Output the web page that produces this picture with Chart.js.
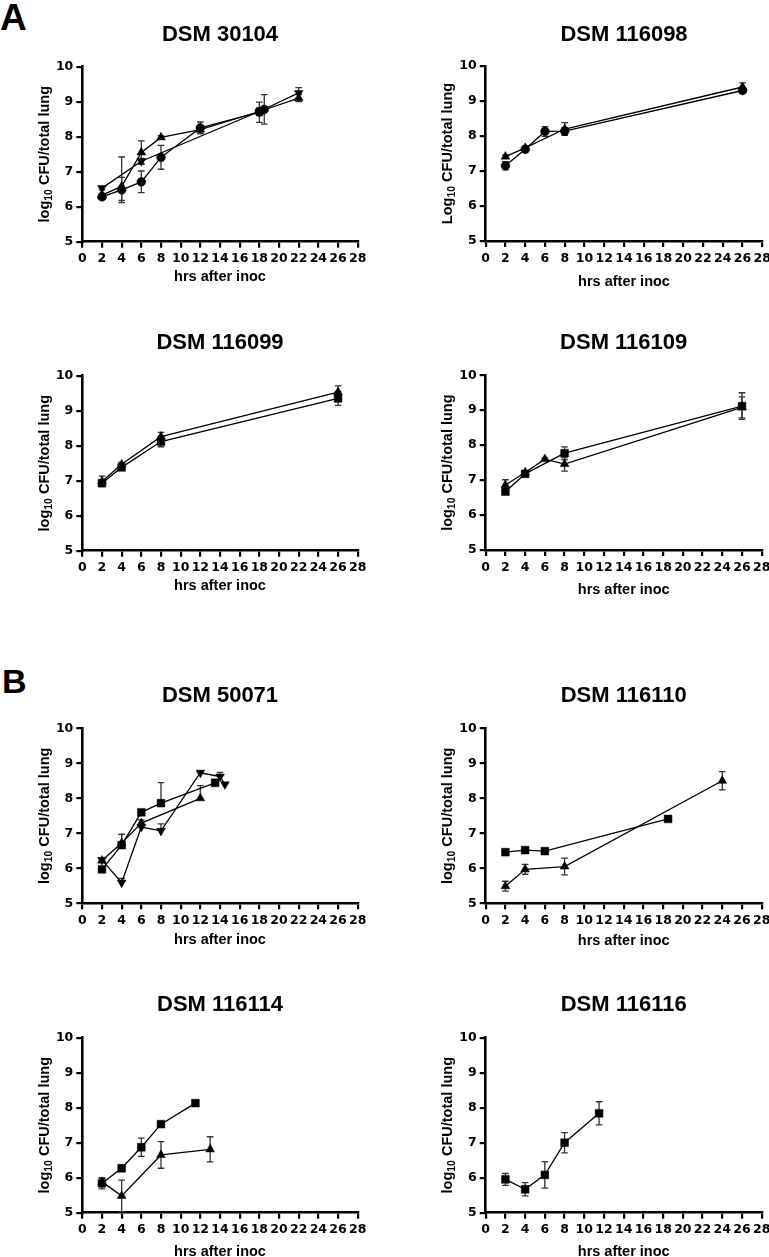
<!DOCTYPE html>
<html><head><meta charset="utf-8">
<script src="https://cdn.jsdelivr.net/npm/chart.js@4.4.1/dist/chart.umd.min.js"></script>
<style>
html,body{margin:0;padding:0;background:#fff;overflow:hidden;width:769px;height:1257px;position:relative;}
canvas{position:absolute;display:block;}
.lbl{position:absolute;font-family:"Liberation Sans",Arial,sans-serif;font-weight:bold;line-height:1;color:#000;}
</style></head><body>
<div class="lbl" style="left:0px;top:-1px;font-size:37px">A</div>
<div class="lbl" style="left:2px;top:664px;font-size:34px">B</div>
<script>
// ---------- tick labels / titles ----------
const hourTicks = [0,2,4,6,8,10,12,14,16,18,20,22,24,26,28];
const logTicks = [5,6,7,8,9,10];
const strainTitles = ['DSM 30104','DSM 116098','DSM 116099','DSM 116109','DSM 50071','DSM 116110','DSM 116114','DSM 116116'];
const yAxisWords = ['log','Log','log','log','log','log','log','log'];
const yAxisSub = '10';
const yAxisRest = ' CFU/total lung';
const xAxisTitle = 'hrs after inoc';

// ---------- data (hours, log10 CFU, error [symmetric or [below, above]]) ----------
// DSM 30104
const h30104Circle = [2,4,6,8,12,18,18.5];
const v30104Circle = [6.28,6.48,6.71,7.41,8.25,8.70,8.78];
const e30104Circle = [0.05,0.36,0.31,0.34,0.17,0.29,0.42];
const h30104Up = [2,4,6,8,12,18,22];
const v30104Up = [6.33,6.58,7.55,7.98,8.20,8.72,9.10];
const e30104Up = [0.05,[0.40,0.84],0.33,0.05,0.10,0.10,0.10];
const h30104Down = [2,6,18,22];
const v30104Down = [6.53,7.30,8.72,9.25];
const e30104Down = [0.05,0.08,0.10,0.15];
// DSM 116098
const h116098Circle = [2,4,6,8,26];
const v116098Circle = [7.15,7.62,8.13,8.14,9.30];
const e116098Circle = [0.12,0.05,0.14,0.10,0.06];
const h116098Up = [2,4,8,26];
const v116098Up = [7.41,7.66,8.20,9.40];
const e116098Up = [0.05,0.05,0.18,0.12];
// DSM 116099
const h116099Up = [2,4,8,26];
const v116099Up = [6.98,7.47,8.26,9.53];
const e116099Up = [0.15,0.05,0.12,0.18];
const h116099Sq = [2,4,8,26];
const v116099Sq = [6.93,7.38,8.12,9.35];
const e116099Sq = [0.05,0.06,0.15,0.20];
// DSM 116109
const h116109Sq = [2,4,8,26];
const v116109Sq = [6.67,7.18,7.77,9.12];
const e116109Sq = [0.06,0.06,0.18,0.38];
const h116109Up = [2,4,6,8,26];
const v116109Up = [6.86,7.22,7.60,7.46,9.08];
const e116109Up = [0.15,0.05,0.03,0.20,0.30];
// DSM 50071
const h50071Sq = [2,4,6,8,13.5];
const v50071Sq = [5.97,6.66,7.60,7.86,8.44];
const e50071Sq = [[0,0.05],[0,0.31],[0,0.05],[0,0.59],[0,0.10]];
const h50071Up = [2,4,6,12];
const v50071Up = [6.22,6.72,7.29,8.00];
const e50071Up = [[0,0.05],[0,0.25],[0,0.09],[0,0.36]];
const h50071Down = [2,4,6,8,12,14,14.5];
const v50071Down = [6.24,5.59,7.18,7.07,8.73,8.62,8.40];
const e50071Down = [[0,0.05],[0,0.12],[0,0.05],[0,0.20],[0,0.05],[0,0.12],[0,0.05]];
// DSM 116110
const h116110Sq = [2,4,6,18.5];
const v116110Sq = [6.46,6.52,6.49,7.41];
const e116110Sq = [0.04,0.04,0.04,0.06];
const h116110Up = [2,4,8,24];
const v116110Up = [5.49,5.97,6.05,8.50];
const e116110Up = [0.14,0.14,0.24,0.26];
// DSM 116114
const h116114Sq = [2,4,6,8,11.5];
const v116114Sq = [5.84,6.27,6.87,7.53,8.13];
const e116114Sq = [0.16,0.05,0.26,0.05,0.05];
const h116114Up = [2,4,8,13];
const v116114Up = [5.88,5.48,6.65,6.81];
const e116114Up = [0.10,0.45,0.38,0.36];
// DSM 116116
const h116116Sq = [2,4,6,8,11.5];
const v116116Sq = [5.95,5.67,6.08,7.00,7.84];
const e116116Sq = [0.17,0.19,0.38,0.29,0.33];

// ---------- marker styles ----------
const MARK = {
  circle: {pointStyle:'circle', pointRadius:4.4, pointRotation:0},
  up:     {pointStyle:'triangle', pointRadius:5.1, pointRotation:0},
  down:   {pointStyle:'triangle', pointRadius:5.1, pointRotation:180},
  square: {pointStyle:'rect', pointRadius:5.5, pointRotation:0}
};
function series(mark, hrs, vals, errs) {
  return Object.assign({
    data: hrs.map((h, i) => ({x: h, y: vals[i]})),
    errors: errs,
    showLine: true,
    borderColor: '#000', borderWidth: 1.3,
    backgroundColor: '#000', pointBackgroundColor: '#000', pointBorderColor: '#000', pointBorderWidth: 0.5,
    pointHoverRadius: 0, tension: 0
  }, MARK[mark]);
}
const PANEL_SERIES = [
  [series('circle',h30104Circle,v30104Circle,e30104Circle), series('up',h30104Up,v30104Up,e30104Up), series('down',h30104Down,v30104Down,e30104Down)],
  [series('circle',h116098Circle,v116098Circle,e116098Circle), series('up',h116098Up,v116098Up,e116098Up)],
  [series('square',h116099Sq,v116099Sq,e116099Sq), series('up',h116099Up,v116099Up,e116099Up)],
  [series('square',h116109Sq,v116109Sq,e116109Sq), series('up',h116109Up,v116109Up,e116109Up)],
  [series('square',h50071Sq,v50071Sq,e50071Sq), series('up',h50071Up,v50071Up,e50071Up), series('down',h50071Down,v50071Down,e50071Down)],
  [series('square',h116110Sq,v116110Sq,e116110Sq), series('up',h116110Up,v116110Up,e116110Up)],
  [series('square',h116114Sq,v116114Sq,e116114Sq), series('up',h116114Up,v116114Up,e116114Up)],
  [series('square',h116116Sq,v116116Sq,e116116Sq)]
];

// ---------- layout (page pixels) ----------
const LAYOUT = [
  {c:[0,0,384,300],     p:[82.3,66.7,357.7,241.7],   tY:35,   yX:43.3,  xY:276.7},
  {c:[384,0,385,300],   p:[485.7,66,762.3,241],      tY:35,   yX:446.7, xY:281.7},
  {c:[0,300,384,300],   p:[82.3,375.7,357.7,550.7],  tY:343,  yX:43.3,  xY:586},
  {c:[384,300,385,300], p:[485.7,375.3,761.7,550],   tY:343,  yX:446.7, xY:590},
  {c:[0,620,384,340],   p:[82.3,728.3,357.7,903.3],  tY:696,  yX:43.3,  xY:940},
  {c:[384,620,385,340], p:[485.7,728.3,761.7,903.3], tY:696,  yX:446.7, xY:941},
  {c:[0,960,384,310],   p:[82.3,1037.7,357.7,1212.7],tY:1005, yX:43.3,  xY:1251.5},
  {c:[384,960,385,310], p:[485.7,1037.7,761.7,1212.7],tY:1005,yX:446.7, xY:1251.5}
];

const errorBars = {
  id: 'errorBars',
  beforeDatasetsDraw(chart) {
    const ctx = chart.ctx, xs = chart.scales.x, ys = chart.scales.y;
    ctx.save();
    ctx.strokeStyle = '#333'; ctx.lineWidth = 1.3;
    chart.data.datasets.forEach(ds => {
      (ds.errors || []).forEach((e, i) => {
        const pt = ds.data[i];
        const lo = Array.isArray(e) ? e[0] : e, hi = Array.isArray(e) ? e[1] : e;
        const px = xs.getPixelForValue(pt.x);
        const yT = ys.getPixelForValue(pt.y + hi), yB = ys.getPixelForValue(pt.y - lo);
        ctx.beginPath();
        ctx.moveTo(px, yT); ctx.lineTo(px, yB);
        if (hi > 0) { ctx.moveTo(px - 3.3, yT); ctx.lineTo(px + 3.3, yT); }
        if (lo > 0) { ctx.moveTo(px - 3.3, yB); ctx.lineTo(px + 3.3, yB); }
        ctx.stroke();
      });
    });
    ctx.restore();
  }
};

// y-axis title with a real subscript ("log" + small lowered "10" + rest)
const subscriptYTitle = {
  id: 'subYTitle',
  afterDraw(chart, args, o) {
    if (!o || !o.word) return;
    const ctx = chart.ctx, ca = chart.chartArea;
    const fMain = 'bold ' + o.size + 'px "Liberation Sans", Arial, sans-serif';
    const fSub = 'bold ' + (o.size * 0.72) + 'px "Liberation Sans", Arial, sans-serif';
    ctx.save();
    ctx.font = fMain; const w1 = ctx.measureText(o.word).width; const w3 = ctx.measureText(o.rest).width;
    ctx.font = fSub; const w2 = ctx.measureText(o.sub).width;
    const total = w1 + w2 + w3;
    ctx.translate(o.x, (ca.top + ca.bottom) / 2);
    ctx.rotate(-Math.PI / 2);
    ctx.fillStyle = '#000'; ctx.textBaseline = 'alphabetic'; ctx.textAlign = 'left';
    const base = o.size * 0.36;
    let x = -total / 2;
    ctx.font = fMain; ctx.fillText(o.word, x, base); x += w1;
    ctx.font = fSub; ctx.fillText(o.sub, x, base + o.size * 0.22); x += w2;
    ctx.font = fMain; ctx.fillText(o.rest, x, base);
    ctx.restore();
  }
};

const TITLE_FS = 22, AXT_FS = 14.5, TICK_FS = 12.5;
const TITLE_LH = TITLE_FS * 1.2, AXT_LH = AXT_FS * 1.2;

LAYOUT.forEach((L, k) => {
  const [cx, cy, cw, ch] = L.c;
  const [pl, pt, pr, pb] = L.p;
  const cv = document.createElement('canvas');
  cv.width = cw; cv.height = ch;
  cv.style.left = cx + 'px'; cv.style.top = cy + 'px';
  cv.style.width = cw + 'px'; cv.style.height = ch + 'px';
  document.body.appendChild(cv);
  const yW = pl - cx, xH = cy + ch - pb;
  new Chart(cv.getContext('2d'), {
    type: 'scatter',
    data: { datasets: PANEL_SERIES[k] },
    plugins: [errorBars, subscriptYTitle],
    options: {
      responsive: false, animation: false, devicePixelRatio: 1,
      layout: { padding: { left: 0, top: 0, bottom: 0, right: cx + cw - pr } },
      plugins: {
        legend: { display: false }, tooltip: { enabled: false },
        subYTitle: { word: yAxisWords[k], sub: yAxisSub, rest: yAxisRest, x: L.yX - cx, size: AXT_FS },
        title: {
          display: true, text: strainTitles[k], fullSize: false, color: '#000',
          font: { family: '"Liberation Sans", Arial, sans-serif', size: TITLE_FS, weight: 'bold', lineHeight: 1.2 },
          padding: { top: L.tY - cy - TITLE_LH / 2, bottom: pt - L.tY - TITLE_LH / 2 }
        }
      },
      scales: {
        x: {
          type: 'linear', min: 0, max: 28,
          afterBuildTicks: s => { s.ticks = hourTicks.map(v => ({ value: v })); },
          afterFit: s => { s.height = xH; s.paddingLeft = 0; s.paddingRight = 0; },
          border: { display: true, color: '#000', width: 2.6 },
          grid: { drawOnChartArea: false, drawTicks: true, tickLength: 6, color: '#000', lineWidth: 2.2 },
          ticks: { autoSkip: false, maxRotation: 0, minRotation: 0, padding: 4, color: '#000',
                   font: { family: '"DejaVu Sans", sans-serif', size: TICK_FS, weight: 'bold' } },
          title: { display: true, text: xAxisTitle, color: '#000',
                   font: { family: '"Liberation Sans", Arial, sans-serif', size: AXT_FS, weight: 'bold', lineHeight: 1.2 },
                   padding: { top: 0, bottom: cy + ch - L.xY - AXT_LH / 2 } }
        },
        y: {
          type: 'linear', min: 5, max: 10,
          afterBuildTicks: s => { s.ticks = logTicks.map(v => ({ value: v })); },
          afterFit: s => { s.width = yW; s.paddingTop = 0; s.paddingBottom = 0; },
          border: { display: true, color: '#000', width: 2.6 },
          grid: { drawOnChartArea: false, drawTicks: true, tickLength: 6, color: '#000', lineWidth: 2.2 },
          ticks: { padding: 3, color: '#000',
                   font: { family: '"DejaVu Sans", sans-serif', size: TICK_FS, weight: 'bold' } },
          title: { display: false }
        }
      }
    }
  });
});
</script>
</body></html>
